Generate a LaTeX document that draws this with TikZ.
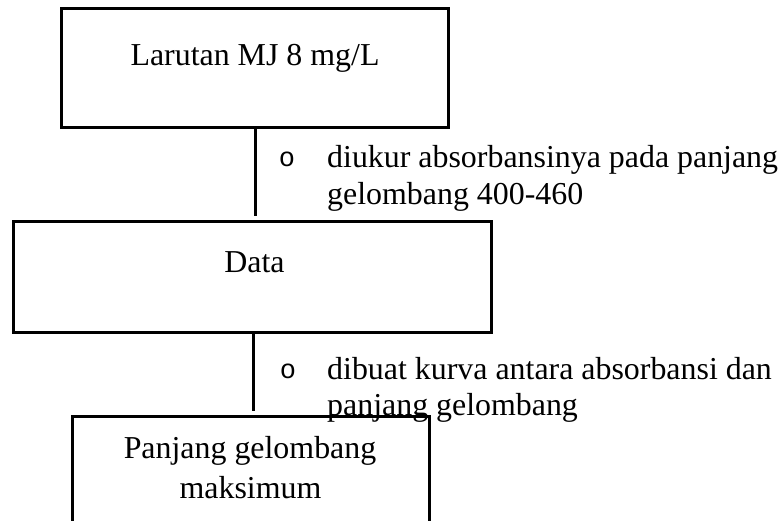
\documentclass[tikz,border=0pt]{standalone}
\usepackage{fontspec}
\setmainfont{Liberation Serif}
\newfontfamily\bulletfont{Liberation Mono}
\begin{document}
\begin{tikzpicture}[x=1pt,y=-1pt,
  box/.style={draw,line width=3pt,rectangle,inner sep=0pt},
  label/.style={inner sep=0pt,font=\fontsize{31.9}{36.5}\selectfont},
  bul/.style={inner sep=0pt,anchor=base,font=\bulletfont\fontsize{27}{30}\selectfont},
  link/.style={line width=3pt,shorten >=4pt}]
\clip (0,0) rectangle (784,520);
\fill[white] (0,0) rectangle (784,520);

% boxes
\node[box,minimum width=387pt,minimum height=118.5pt] (b1) at (254.5,68) {};
\node[box,minimum width=478pt,minimum height=111.5pt] (b2) at (252,277.2) {};
\node[box,minimum width=357pt,minimum height=124pt] (b3) at (250.5,478.5) {};

% connectors
\draw[link] ([xshift=0.5pt]b1.south) -- ([xshift=0.5pt]b1.south |- b2.north);
\draw[link] ([xshift=1pt]b2.south) -- ([xshift=1pt]b2.south |- b3.north);

% box texts
\node[label,anchor=base] (t1) at (255,65) {Larutan MJ 8 mg/L};
\node[label,anchor=base] (t2) at (254.5,272) {Data};
\node[label,anchor=base] (t3a) at (250,458) {Panjang gelombang};
\node[label,anchor=base] (t3b) at (250.5,498) {maksimum};

% step notes
\node[bul] (o1) at (287,166) {o};
\node[label,anchor=base west] (n1a) at (327,167) {diukur absorbansinya pada panjang};
\node[label,anchor=base west] (n1b) at (327,204) {gelombang 400-460};
\node[bul] (o2) at (288,378) {o};
\node[label,anchor=base west] (n2a) at (327,379) {dibuat kurva antara absorbansi dan};
\node[label,anchor=base west] (n2b) at (327,415) {panjang gelombang};
\end{tikzpicture}
\end{document}
